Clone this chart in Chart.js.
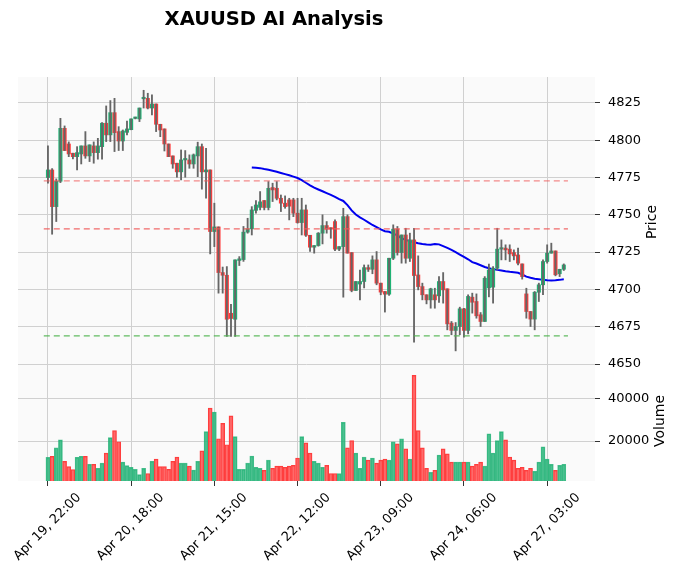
<!DOCTYPE html>
<html><head><meta charset="utf-8">
<script src="https://cdn.jsdelivr.net/npm/chart.js@4/dist/chart.umd.min.js"></script>
<style>
body{margin:0;background:#fff;font-family:"DejaVu Sans",sans-serif}
#wrap{position:relative;width:677px;height:576px}
#title{position:absolute;left:274px;top:7px;transform:translateX(-50%);font-weight:bold;font-size:19.5px;white-space:nowrap}
.yl{position:absolute;font-size:14px;transform:translate(-50%,-50%) rotate(-90deg);white-space:nowrap}
</style></head><body>
<div id="wrap"><canvas id="c" width="677" height="576"></canvas>
<div id="title">XAUUSD AI Analysis</div>
<div class="yl" style="left:651px;top:222px">Price</div>
<div class="yl" style="left:659px;top:421px">Volume</div>
</div>
<script>
const opens=[4775.0,4780.1,4755.5,4772.5,4808.0,4797.5,4791.3,4789.0,4790.8,4796.2,4789.5,4796.2,4791.7,4795.7,4811.4,4803.6,4818.5,4805.8,4799.5,4805.3,4807.1,4814.6,4814.3,4827.8,4828.1,4821.6,4824.3,4810.7,4807.6,4797.5,4789.5,4784.6,4778.8,4786.8,4786.8,4784.1,4789.5,4795.7,4778.8,4780.1,4738.8,4741.9,4711.3,4709.5,4684.0,4680.0,4719.4,4720.0,4738.4,4740.6,4753.0,4755.0,4759.6,4754.9,4768.3,4767.8,4761.1,4757.8,4760.0,4760.0,4751.1,4744.8,4753.3,4736.3,4728.3,4729.4,4737.7,4742.8,4741.3,4745.5,4727.0,4728.7,4748.8,4724.7,4699.3,4703.6,4705.3,4714.6,4713.5,4719.8,4704.2,4698.6,4696.8,4720.9,4740.4,4724.7,4736.5,4720.9,4733.2,4709.7,4701.9,4696.4,4693.0,4696.4,4695.7,4705.3,4700.4,4677.4,4672.5,4675.1,4687.0,4672.5,4694.8,4691.9,4683.0,4678.5,4701.0,4701.5,4714.2,4727.0,4727.7,4727.0,4724.7,4723.1,4717.1,4697.0,4685.2,4680.1,4698.1,4703.1,4718.7,4724.3,4725.8,4710.5,4713.5];
const highs=[4796.2,4781.0,4774.1,4814.7,4809.6,4798.9,4791.3,4795.7,4796.2,4805.8,4796.9,4798.9,4801.3,4811.8,4823.0,4826.6,4828.1,4809.1,4806.9,4812.9,4814.3,4815.5,4821.6,4833.5,4831.5,4830.4,4824.3,4810.7,4807.6,4797.5,4789.5,4784.6,4793.5,4793.1,4790.2,4790.8,4798.7,4797.5,4794.6,4780.1,4757.8,4741.9,4715.0,4715.3,4690.0,4719.8,4722.0,4742.2,4747.7,4755.5,4759.6,4765.6,4759.6,4772.3,4771.2,4772.3,4763.3,4762.7,4761.1,4761.1,4761.1,4761.1,4756.6,4736.3,4729.4,4738.1,4750.0,4745.5,4741.3,4746.6,4728.7,4754.4,4750.0,4724.7,4705.3,4713.0,4716.4,4716.4,4722.5,4725.4,4704.2,4698.6,4720.9,4743.3,4742.2,4736.5,4741.0,4737.7,4741.0,4722.5,4704.2,4696.4,4700.8,4700.8,4708.6,4711.3,4700.4,4678.5,4677.8,4688.1,4687.4,4696.4,4697.5,4697.0,4684.5,4708.6,4717.0,4715.3,4741.0,4733.2,4729.9,4729.9,4726.5,4727.7,4717.1,4700.8,4685.2,4698.6,4704.2,4719.8,4729.9,4731.0,4725.8,4713.5,4717.1];
const lows=[4771.2,4737.0,4745.5,4771.6,4793.0,4789.0,4787.5,4780.1,4784.1,4787.9,4785.7,4784.6,4787.3,4787.3,4799.1,4799.1,4792.4,4793.1,4793.1,4803.6,4807.0,4814.3,4812.5,4821.6,4821.0,4817.0,4805.8,4802.4,4792.8,4789.0,4781.2,4775.2,4773.4,4775.2,4781.2,4781.2,4775.6,4767.2,4761.1,4723.8,4728.7,4697.5,4697.5,4668.5,4668.5,4668.5,4716.0,4718.8,4737.7,4736.5,4751.1,4753.3,4753.3,4753.3,4758.9,4760.0,4752.2,4754.4,4746.6,4748.8,4744.4,4736.5,4735.5,4725.4,4724.3,4729.0,4730.5,4737.7,4734.3,4726.0,4726.0,4694.8,4724.3,4698.4,4699.3,4693.0,4701.0,4712.0,4710.5,4703.1,4696.4,4684.8,4696.0,4720.0,4723.0,4717.6,4717.6,4718.7,4664.6,4699.7,4693.0,4690.3,4687.4,4687.4,4691.2,4690.8,4672.9,4669.6,4658.8,4669.6,4668.0,4670.2,4684.1,4680.7,4675.1,4678.5,4695.0,4690.8,4713.1,4719.8,4719.8,4718.7,4719.8,4716.4,4706.9,4680.7,4675.1,4672.9,4691.9,4696.4,4717.6,4724.3,4709.1,4708.6,4712.7];
const closes=[4780.1,4755.5,4772.5,4808.0,4793.1,4790.8,4789.0,4791.7,4796.2,4789.5,4796.9,4791.7,4796.2,4811.4,4803.6,4818.5,4805.1,4799.5,4806.2,4807.6,4814.3,4815.3,4821.6,4828.5,4821.6,4824.3,4810.7,4806.9,4797.5,4789.0,4784.1,4778.8,4786.8,4787.2,4784.1,4790.2,4795.7,4778.8,4780.1,4738.8,4741.9,4711.3,4709.5,4680.0,4680.5,4719.8,4720.5,4738.4,4740.6,4753.3,4756.6,4758.7,4754.9,4767.8,4766.7,4761.1,4757.8,4755.5,4755.8,4751.1,4744.8,4753.3,4736.3,4728.3,4729.4,4737.7,4742.8,4740.4,4740.4,4727.0,4728.7,4748.8,4724.3,4699.3,4705.3,4705.3,4714.6,4713.5,4719.8,4704.2,4698.2,4696.8,4720.9,4740.4,4724.7,4736.5,4720.9,4733.2,4709.3,4701.9,4696.4,4693.0,4700.4,4693.0,4705.3,4699.7,4676.9,4672.5,4675.1,4687.0,4672.5,4695.3,4691.4,4682.3,4678.5,4707.5,4713.0,4714.2,4727.0,4727.7,4726.5,4723.8,4722.5,4717.6,4708.6,4685.2,4680.1,4698.1,4703.1,4718.7,4724.3,4725.8,4709.8,4713.5,4716.4];
const volumes=[12380,12860,16800,20600,10600,8100,6670,12400,12860,12860,9200,9200,7300,9700,14400,21600,24900,19700,10200,8600,7800,6800,4400,7300,4900,10600,11600,8100,8100,6800,10600,12500,9700,9700,8300,6500,10600,15400,24400,35400,33500,21100,28300,18300,31700,22100,6800,6800,9700,13000,7800,7300,6400,11100,7300,8300,8300,7800,8300,8700,12100,22100,19200,14400,10600,9700,7800,8700,4900,4900,4900,28700,16800,20200,14400,7300,12500,11100,12100,9700,11100,11600,11100,19700,18700,21100,16400,11600,50600,24900,16800,7300,5400,6400,13500,16400,14000,10200,10200,10200,10200,10200,8300,9200,10200,8300,23400,14400,20200,24400,20600,12500,11100,7300,7800,6400,7300,5900,10200,17300,11600,9200,6400,8700,9200];
const maStart=49;
const maValues=[4781.7,4781.5,4781.3,4780.7,4780.2,4779.6,4778.9,4778.1,4777.3,4776.5,4775.6,4774.7,4773.3,4771.5,4769.8,4768.2,4767.0,4765.8,4764.6,4763.4,4762.0,4760.5,4759.3,4756.5,4753.0,4750.2,4748.3,4746.7,4745.0,4743.2,4741.8,4740.2,4739.0,4738.6,4737.4,4736.2,4734.3,4733.2,4732.3,4731.6,4731.0,4730.5,4730.1,4730.0,4730.4,4730.2,4729.0,4727.8,4726.5,4725.0,4723.4,4721.8,4720.2,4718.3,4717.4,4716.2,4715.0,4714.2,4713.6,4713.1,4712.7,4712.2,4711.8,4711.5,4711.2,4710.0,4708.6,4707.8,4707.2,4706.8,4706.4,4706.1,4706.0,4706.1,4706.4,4706.8];
const levels=[4772.7,4740.6,4668.9];
const levelColors=['rgba(240,90,90,0.7)','rgba(240,90,90,0.9)','rgba(80,180,80,0.9)'];
const tickIdx=[0,20,40,60,80,100,120];
const tickLabels=['Apr 19, 22:00','Apr 20, 18:00','Apr 21, 15:00','Apr 22, 12:00','Apr 23, 09:00','Apr 24, 06:00','Apr 27, 03:00'];

const UP='#1fb274', DN='#ff3b3b';
const isUp=opens.map((o,i)=>closes[i]>=o);
const bodies=opens.map((o,i)=>({x:i,y:[o,closes[i]]}));
const wicks=opens.map((o,i)=>({x:i,y:[lows[i],highs[i]]}));
const vols=volumes.map((v,i)=>({x:i,y:v}));
const ma=maValues.map((v,k)=>({x:maStart+k,y:v}));
const levelSets=levels.map((v,k)=>({type:'line',data:[{x:-1,y:v},{x:125,y:v}],borderColor:levelColors[k],borderWidth:1.2,borderDash:[6,4],pointRadius:0,yAxisID:'y'}));

const bg={id:'bg',beforeDraw(c){const a=c.chartArea,x=c.ctx;x.save();x.fillStyle='#fafafa';x.fillRect(a.left,a.top,a.right-a.left,a.bottom-a.top);x.restore();}};
const xlab={id:'xlab',afterDraw(c){const s=c.scales.x,x=c.ctx;x.save();x.font='13px "DejaVu Sans"';x.fillStyle='#000';x.textAlign='center';x.textBaseline='middle';
 tickIdx.forEach((v,k)=>{const px=s.getPixelForValue(v);x.save();x.translate(px-0.5,c.chartArea.bottom+46);x.rotate(-Math.PI/4);x.fillText(tickLabels[k],0,0);x.restore();});x.restore();}};
const tk={padding:8,color:'#000',font:{family:'DejaVu Sans',size:13},callback:v=>String(v)};
new Chart(document.getElementById('c'),{
 data:{datasets:[
  {type:'bar',data:vols,yAxisID:'yv',grouped:false,barThickness:4,backgroundColor:isUp.map(u=>u?'rgba(31,178,116,0.8)':'rgba(255,70,70,0.8)'),borderColor:isUp.map(u=>u?'rgba(31,178,116,0.8)':'rgba(255,60,60,1)'),borderWidth:0.8},
  ...levelSets,
  {type:'bar',data:wicks,yAxisID:'y',grouped:false,barThickness:1.2,backgroundColor:'#666'},
  {type:'bar',data:bodies,yAxisID:'y',grouped:false,barThickness:3.4,minBarLength:1.5,backgroundColor:isUp.map(u=>u?UP:DN)},
  {type:'line',data:ma,yAxisID:'y',borderColor:'#0000ee',borderWidth:2,pointRadius:0,tension:0}
 ]},
 options:{responsive:false,animation:false,
  layout:{padding:{left:18,top:77,right:0,bottom:0}},
  plugins:{legend:{display:false},tooltip:{enabled:false}},
  scales:{
   x:{type:'linear',offset:false,min:-7.2,max:131.5,
     afterBuildTicks(s){s.ticks=tickIdx.map(v=>({value:v}));},
     afterFit(s){s.height=95;s.paddingLeft=0;s.paddingRight=0;},
     grid:{color:'#d0d0d0',tickLength:5,tickColor:'#333',offset:false},border:{display:false},
     ticks:{autoSkip:false,maxRotation:0,minRotation:0,color:'rgba(0,0,0,0)',font:{size:1},callback:()=>''}},
   y:{position:'right',stack:'p',stackWeight:287,min:4650,max:4842.4,
     afterBuildTicks(s){const t=[];for(let v=4650;v<=4825;v+=25)t.push({value:v});s.ticks=t;},
     afterFit(s){s.width=82;},
     grid:{color:'#d0d0d0',tickLength:5,tickColor:'#333'},border:{display:false},ticks:tk},
   yv:{position:'right',stack:'p',stackWeight:117,min:1400,max:55900,
     afterBuildTicks(s){s.ticks=[{value:20000},{value:40000}];},
     afterFit(s){s.width=82;},
     grid:{color:'#d0d0d0',tickLength:5,tickColor:'#333'},border:{display:false},ticks:tk}
  }},
 plugins:[bg,xlab]
});
</script></body></html>
